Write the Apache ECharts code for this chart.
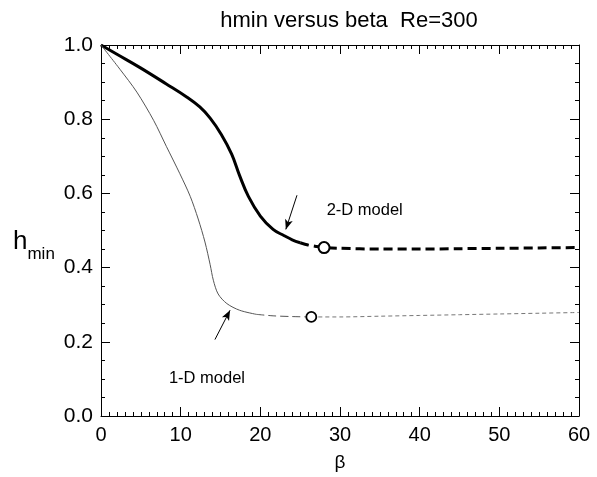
<!DOCTYPE html>
<html>
<head>
<meta charset="utf-8">
<script src="https://cdn.jsdelivr.net/npm/echarts@6/dist/echarts.min.js"></script>
<style>
html,body{margin:0;padding:0;background:#fff;}
#c{width:597px;height:477px;}
</style>
</head>
<body>
<div id="c"></div>
<script>
// ---- data ----
const titleText = 'hmin versus beta  Re=300';
const xTicks = [0, 10, 20, 30, 40, 50, 60];
const yTicks = [0.0, 0.2, 0.4, 0.6, 0.8, 1.0];

// 2-D model (thick curve)
const model2dSolid = [[0,1.0],[2,0.975],[4.9,0.939],[8.2,0.895],[10.75,0.86],[12.4,0.833],[13.7,0.803],[15.1,0.759],[16.4,0.706],[17.4,0.648],[18.5,0.592],[20,0.539],[21.6,0.503],[23,0.486],[24,0.475],[25,0.467]];
const model2dDashed = [[25,0.467],[26,0.461],[27,0.457],[28,0.454],[30,0.452],[35,0.450],[40,0.450],[45,0.451],[50,0.452],[55,0.453],[60,0.454]];
const model2dMarker = [[28,0.454]];

// 1-D model (thin curve)
const model1dSolid = [[0,1.0],[2.4,0.934],[4.5,0.873],[6.6,0.797],[8.2,0.727],[9.9,0.653],[11.2,0.592],[12.2,0.531],[13.05,0.469],[13.7,0.408],[14.1,0.366],[14.7,0.329],[15.8,0.303],[17.4,0.285],[19.5,0.274]];
const model1dDashedA = [[19.5,0.274],[21.6,0.270],[24,0.268],[26.4,0.267]];
const model1dDashedB = [[26.4,0.267],[30,0.267],[35,0.269],[40,0.271],[45,0.273],[50,0.275],[55,0.277],[60,0.279]];
const model1dMarker = [[26.4,0.267]];

// annotations
const label2d = {text: '2-D model', at: [33.1, 0.555]};
const label1d = {text: '1-D model', at: [13.3, 0.100]};
const arrow2d = [[24.6, 0.595], [23.2, 0.503]];
const arrow1d = [[14.3, 0.206], [16.2, 0.285]];

const FONT = '"Liberation Sans", Arial, Helvetica, sans-serif';
const chart = echarts.init(document.getElementById('c'), null, {renderer: 'canvas'});

function axisCommon(showLabel) {
  return {
    axisLine: {show: true, onZero: false, lineStyle: {color: '#000', width: 1}},
    axisTick: {show: true, inside: true, length: 9, lineStyle: {color: '#000', width: 1}},
    splitLine: {show: false},
    axisLabel: {show: showLabel, color: '#000', fontSize: 20, fontFamily: FONT},
  };
}

const xBase = {type: 'value', min: xTicks[0], max: xTicks[xTicks.length-1], interval: 10};
const yBase = {type: 'value', min: yTicks[0], max: yTicks[yTicks.length-1], interval: 0.2};

const option = {
  animation: false,
  backgroundColor: '#fff',
  textStyle: {fontFamily: FONT},
  title: {
    text: titleText, left: 344, top: 5, textAlign: 'center',
    textStyle: {fontSize: 22, fontWeight: 'normal', color: '#000', fontFamily: FONT}
  },
  grid: {left: 101, right: 18, top: 45, bottom: 52},
  xAxis: [
    Object.assign({}, xBase, axisCommon(true), {
      position: 'bottom',
      minorTick: {show: true, splitNumber: 10, length: 4, lineStyle: {color: '#000'}},
      axisLabel: {show: true, color: '#000', fontSize: 20, fontFamily: FONT, margin: 9,
        formatter: v => String(v)},
      name: 'β', nameLocation: 'middle', nameGap: 37,
      nameTextStyle: {fontSize: 19, color: '#000', fontFamily: FONT}
    }),
    Object.assign({}, xBase, axisCommon(false), {
      position: 'top',
      minorTick: {show: true, splitNumber: 10, length: 4, lineStyle: {color: '#000'}}
    })
  ],
  yAxis: [
    Object.assign({}, yBase, axisCommon(true), {
      position: 'left',
      minorTick: {show: true, splitNumber: 4, length: 4, lineStyle: {color: '#000'}},
      axisLabel: {show: true, color: '#000', fontSize: 21, fontFamily: FONT, margin: 8,
        formatter: v => v.toFixed(1)}
    }),
    Object.assign({}, yBase, axisCommon(false), {
      position: 'right',
      minorTick: {show: true, splitNumber: 4, length: 4, lineStyle: {color: '#000'}}
    })
  ],
  graphic: [
    {
      type: 'text', left: 13, top: 229,
      style: {
        text: '{h|h}{s|min}',
        rich: {
          h: {fontSize: 26, fontFamily: FONT, fill: '#000', verticalAlign: 'bottom', lineHeight: 28},
          s: {fontSize: 17, fontFamily: FONT, fill: '#000', verticalAlign: 'bottom', lineHeight: 28, padding: [0,0,-8,0]}
        }
      }
    }
  ],
  series: [
    {
      type: 'line', name: '2-D solid', data: model2dSolid, symbol: 'none',
      smooth: 0.4,
      lineStyle: {color: '#000', width: 3, type: 'solid'},
      markLine: {
        silent: true, symbol: ['none', 'arrow'], symbolSize: [6, 10],
        label: {show: false},
        lineStyle: {color: '#000', width: 1, type: 'solid'},
        data: [
          [{coord: arrow2d[0]}, {coord: arrow2d[1]}],
          [{coord: arrow1d[0]}, {coord: arrow1d[1]}]
        ]
      },
      markPoint: {
        silent: true, symbol: 'circle', symbolSize: 0,
        label: {show: true, position: 'inside', color: '#000', fontSize: 16.5, fontFamily: FONT,
          formatter: p => p.name},
        data: [
          {name: label2d.text, coord: label2d.at},
          {name: label1d.text, coord: label1d.at}
        ]
      }
    },
    {
      type: 'line', name: '2-D dashed', data: model2dDashed, symbol: 'none',
      smooth: 0.3,
      lineStyle: {color: '#000', width: 3, type: [9, 5]}
    },
    {
      type: 'scatter', name: '2-D marker', data: model2dMarker, symbol: 'circle', symbolSize: 11,
      itemStyle: {color: '#fff', opacity: 1, borderColor: '#000', borderWidth: 2}, z: 5
    },
    {
      type: 'line', name: '1-D solid', data: model1dSolid, symbol: 'none',
      smooth: 0.3,
      lineStyle: {color: '#555', width: 1, type: 'solid'}
    },
    {
      type: 'line', name: '1-D dashed A', data: model1dDashedA, symbol: 'none',
      smooth: 0.3,
      lineStyle: {color: '#555', width: 1, type: [8, 4]}
    },
    {
      type: 'line', name: '1-D dashed B', data: model1dDashedB, symbol: 'none',
      smooth: 0.3,
      lineStyle: {color: '#777', width: 1, type: [4, 3]}
    },
    {
      type: 'scatter', name: '1-D marker', data: model1dMarker, symbol: 'circle', symbolSize: 10,
      itemStyle: {color: '#fff', opacity: 1, borderColor: '#000', borderWidth: 1.8}, z: 5
    }
  ]
};
chart.setOption(option);
</script>
</body>
</html>
